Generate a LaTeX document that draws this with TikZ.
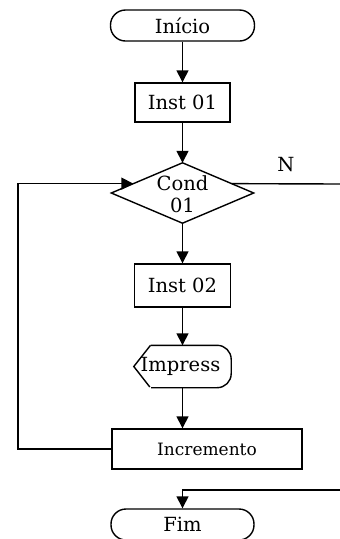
\documentclass[tikz,border=0pt]{standalone}
\usepackage{fontspec}
\setmainfont{DejaVu Serif}
\usetikzlibrary{arrows.meta,calc}
\begin{document}
\begin{tikzpicture}[x=1pt,y=-1pt,
  line width=1.4pt,
  every node/.style={font=\fontsize{19.5}{23}\selectfont, inner sep=0pt},
  arr/.style={-{Triangle[width=12pt,length=12pt]}},
  term/.style={draw, rectangle, rounded corners=15pt},
  procbox/.style={draw, rectangle},
  ghost/.style={rectangle}
]
\useasboundingbox (0,0) rectangle (340,539);
% nodes
\node[term, minimum width=144pt, minimum height=31pt] (inicio) at (182.5,25.5) {Início};
\node[procbox, minimum width=95pt, minimum height=39pt] (inst1) at (182.5,102.5) {Inst 01};
\node[ghost, minimum width=141pt, minimum height=59pt] (cond) at (182.5,193) {};
\draw (cond.north) -- (cond.east) -- (cond.south) -- (cond.west) -- cycle;
\node[align=center] (condtxt) at (182.5,194) {Cond\\[-1pt]01};
\node[procbox, minimum width=96pt, minimum height=43pt] (inst2) at (182.5,285.5) {Inst 02};
\node[ghost, minimum width=96pt, minimum height=41pt] (imp) at (182.5,366.5) {\hspace*{-4pt}Impress};
\draw[rounded corners=14pt] (imp.north) ++(-32pt,0) -- (imp.north east) -- (imp.south east) -- ++(-80pt,0);
\draw (imp.north) ++(-32pt,0) -- (imp.west) -- ++(16pt,20.5);
\node[procbox, minimum width=190pt, minimum height=40pt, font=\fontsize{17}{20}\selectfont] (incr) at (207,449) {Incremento};
\node[term, minimum width=143pt, minimum height=31pt] (fim) at (182.5,524.5) {Fim};
\node (nlab) at (286,165) {N};
% helper coordinates
\coordinate (cin) at ($(cond.west)!0.31!(cond.north)$);
\coordinate (cout) at ($(cond.east)!0.31!(cond.north)$);
\coordinate (nend) at (340,184);
\coordinate (loopx) at (18,449);
\coordinate (ret) at (340,490);
% connectors
\draw[arr] (inicio.south) -- (inst1.north);
\draw[arr] (inst1.south) -- (cond.north);
\draw[arr] (cond.south) -- (inst2.north);
\draw[arr] (inst2.south) -- (imp.north);
\draw[arr] (imp.south) -- (incr.north -| imp.south);
\draw[arr] (incr.west) -- (loopx) |- (cin);
\draw (cout) -- (nend);
\draw[arr] (ret) -| (fim.north);
\end{tikzpicture}
\end{document}
